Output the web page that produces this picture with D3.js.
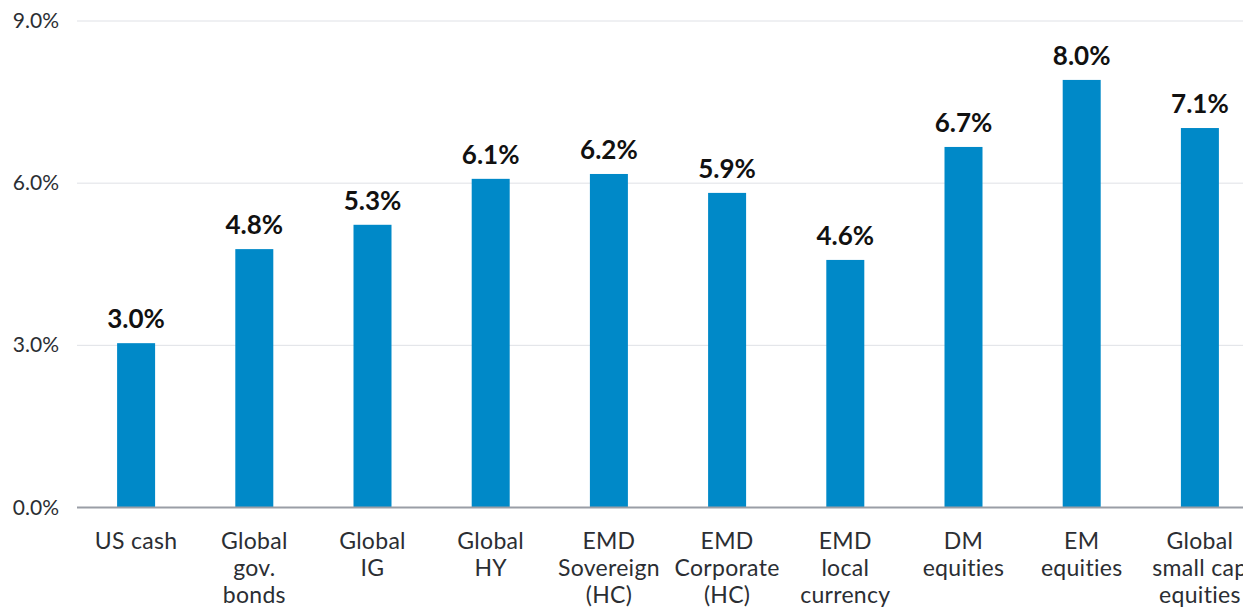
<!DOCTYPE html>
<html><head><meta charset="utf-8">
<script src="https://cdn.jsdelivr.net/npm/d3@7"></script>
<style>body{margin:0;background:#fff;} svg{display:block;}</style>
</head><body>
<svg id="c" width="1243" height="608"></svg>
<script>
const categories = [["US cash"],["Global","gov.","bonds"],["Global","IG"],["Global","HY"],["EMD","Sovereign","(HC)"],["EMD","Corporate","(HC)"],["EMD","local","currency"],["DM","equities"],["EM","equities"],["Global","small cap","equities"]];
const values = [3.04,4.78,5.23,6.08,6.17,5.82,4.58,6.67,7.91,7.02];
const valueLabels = ["3.0%","4.8%","5.3%","6.1%","6.2%","5.9%","4.6%","6.7%","8.0%","7.1%"];
const yTicks = [0,3,6,9];
const yTickLabels = ["0.0%","3.0%","6.0%","9.0%"];

const svg = d3.select("#c");
const font = "Lato, 'Noto Sans', sans-serif";
const x = d3.scaleBand().domain(d3.range(categories.length)).range([77,1259]);
const y = d3.scaleLinear().domain([0,9]).range([507.5,21]);
const bw = 38;

// gridlines
svg.append("g").selectAll("line").data(yTicks.filter(d=>d>0)).join("line")
  .attr("x1",77).attr("x2",1243).attr("y1",d=>y(d)).attr("y2",d=>y(d))
  .attr("stroke","#dfe1e6").attr("stroke-width",1);

// y labels
svg.append("g").selectAll("text").data(yTicks).join("text")
  .attr("x",59).attr("y",d=>y(d)+7).attr("text-anchor","end")
  .attr("font-family",font).attr("font-size",21).attr("fill","#2b2e33")
  .text((d,i)=>yTickLabels[i]);

// bars
svg.append("g").selectAll("rect").data(values).join("rect")
  .attr("x",(d,i)=>x(i)+x.bandwidth()/2-bw/2).attr("width",bw)
  .attr("y",d=>y(d)).attr("height",d=>y(0)-y(d)).attr("fill","#0089c8");

// baseline
svg.append("line").attr("x1",77).attr("x2",1243).attr("y1",y(0)).attr("y2",y(0))
  .attr("stroke","#9a9ea6").attr("stroke-width",2);

// value labels
svg.append("g").selectAll("text").data(values).join("text")
  .attr("x",(d,i)=>x(i)+x.bandwidth()/2).attr("y",d=>y(d)-15)
  .attr("text-anchor","middle").attr("font-family",font).attr("font-weight","bold")
  .attr("font-size",26).attr("fill","#111")
  .text((d,i)=>valueLabels[i]);

// category labels
const cg = svg.append("g").selectAll("text").data(categories).join("text")
  .attr("x",(d,i)=>x(i)+x.bandwidth()/2).attr("y",549)
  .attr("text-anchor","middle").attr("font-family",font).attr("font-size",23)
  .attr("letter-spacing",0.3).attr("fill","#2b2e33");
cg.selectAll("tspan").data(d=>d).join("tspan")
  .attr("x",function(){return d3.select(this.parentNode).attr("x");})
  .attr("dy",(d,i)=>i===0?0:27).text(d=>d);
</script>
</body></html>
